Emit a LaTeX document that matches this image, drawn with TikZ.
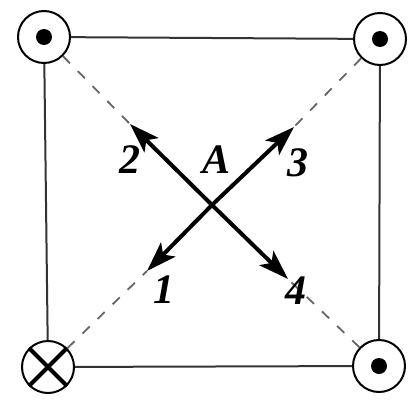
\documentclass[tikz,border=0pt]{standalone}
\usepackage{fontspec}
\setmainfont{Liberation Serif}
\usetikzlibrary{arrows.meta}

\tikzset{
  port/.style={draw,circle,line width=2pt,minimum size=52pt,inner sep=0pt},
  frame/.style={line width=2pt,black!80},
  guide/.style={black!60,line width=1.8pt,dash pattern=on 10pt off 11pt},
  dirarrow/.style={line width=4pt,-{Stealth[length=30pt,width=20pt,inset=7pt]}},
  lbl/.style={font=\fontsize{42}{44}\selectfont\bfseries\itshape}
}

\begin{document}
\begin{tikzpicture}[x=1pt,y=-1pt]
  \useasboundingbox (0,0) rectangle (415,402);
  % corner ports
  \node[port] (tl) at (44,37) {};
  \node[port] (tr) at (380,39) {};
  \node[port] (bl) at (48,367) {};
  \node[port] (br) at (379,366) {};
  \fill (tl.center) circle (8);
  \fill (tr.center) circle (8);
  \fill (br.center) circle (8);
  \draw[line width=4pt] (bl.north west) -- (bl.south east);
  \draw[line width=4pt] (bl.north east) -- (bl.south west);
  % frame
  \draw[frame] (tl) -- (tr);
  \draw[frame] (tr) -- (br);
  \draw[frame] (br) -- (bl);
  \draw[frame] (bl) -- (tl);
  % arrows at A
  \coordinate (c) at (212,205);
  \coordinate (t1) at (147,271);
  \coordinate (t2) at (130,124);
  \coordinate (t3) at (294,127);
  \coordinate (t4) at (288,279);
  \draw[guide] (tl) -- (t2);
  \draw[guide] (tr) -- (t3);
  \draw[guide] (bl) -- (t1);
  \draw[guide] (br) -- (t4);
  \draw[dirarrow] (c) -- (t1);
  \draw[dirarrow] (c) -- (t2);
  \draw[dirarrow] (c) -- (t3);
  \draw[dirarrow] (c) -- (t4);
  % labels
  \node[lbl] (n2) at (130,160) {2};
  \node[lbl] (nA) at (217,160) {A};
  \node[lbl] (n3) at (298,163) {3};
  \node[lbl] (n1) at (164,290) {1};
  \node[lbl] (n4) at (296,291) {4};
\end{tikzpicture}
\end{document}
